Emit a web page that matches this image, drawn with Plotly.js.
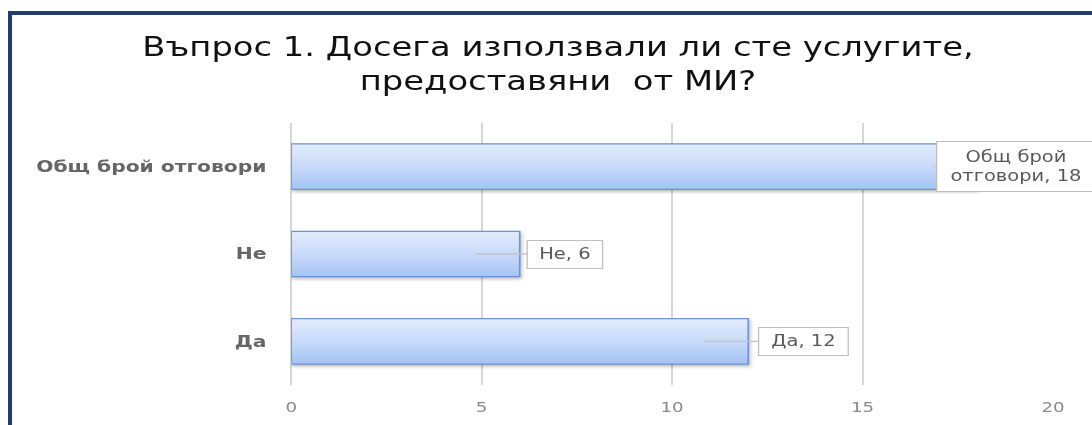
<!DOCTYPE html>
<html>
<head>
<meta charset="utf-8">
<script src="https://cdn.plot.ly/plotly-3.0.1.min.js"></script>
<style>
  html, body { margin: 0; padding: 0; overflow: hidden; background: #ffffff; }
  #stage { position: relative; width: 1092px; height: 425px; overflow: hidden; }
  #chart { position: absolute; left: 0; top: 0; width: 840px; height: 425px;
           transform: scaleX(1.3); transform-origin: 0 0; }
  #frame { position: absolute; left: 8px; top: 11px; width: 2000px; height: 2000px;
           border: 4px solid #223d6d; box-sizing: border-box; pointer-events: none; }
</style>
</head>
<body>
<div id="stage">
  <div id="chart"></div>
  <div id="frame"></div>
</div>
<script>
// Survey answers: "Have you used the services provided by the ministry?"
const categories = ['Да', 'Не', 'Общ брой отговори'];
const counts = [12, 6, 18];
const labelTexts = ['Да, 12', 'Не, 6', 'Общ брой<br>отговори, 18'];
const xTicks = [0, 5, 10, 15, 20];

const titleText = 'Въпрос 1. Досега използвали ли сте услугите,<br>предоставяни\u00a0 от МИ?';

// callout geometry per bar (px): tail offset from tip, box size
const calloutStyle = [
  { ax: 76, w: 60, h: 19 },
  { ax: 69, w: 49, h: 19 },
  { ax: 64, w: 113, h: 41 }
];

const trace = {
  type: 'bar',
  orientation: 'h',
  y: categories,
  x: counts,
  width: 0.52,
  marker: { color: '#c4d8f9', line: { color: '#6a95d4', width: 1.3 } },
  hoverinfo: 'skip'
};

const annotations = categories.map((c, i) => ({
  x: counts[i], y: c, xref: 'x', yref: 'y',
  xshift: -34,
  text: labelTexts[i],
  showarrow: true, arrowhead: 0, arrowwidth: 1.4, arrowcolor: '#c4c4c4',
  ax: calloutStyle[i].ax, ay: 0,
  width: calloutStyle[i].w, height: calloutStyle[i].h,
  align: 'center', valign: 'middle',
  bgcolor: '#ffffff', bordercolor: '#bfbfbf', borderwidth: 1, borderpad: 4,
  font: { family: 'DejaVu Sans', size: 15, color: '#595959' }
}));

const layout = {
  width: 840, height: 425,
  margin: { l: 224, r: 30, t: 123, b: 40 },
  paper_bgcolor: '#ffffff', plot_bgcolor: '#ffffff',
  showlegend: false,
  title: {
    text: titleText,
    x: 0.511, xref: 'container', xanchor: 'center',
    y: 0.868, yref: 'container', yanchor: 'middle',
    font: { family: 'DejaVu Sans', size: 26, color: '#111111' }
  },
  xaxis: {
    range: [0, 20], tickvals: xTicks, ticktext: xTicks.map(String),
    showgrid: true, gridcolor: '#d6d6d6', gridwidth: 1.5,
    zeroline: true, zerolinecolor: '#d6d6d6', zerolinewidth: 1.5,
    showline: false, ticks: '', ticklabelstandoff: 12,
    tickfont: { family: 'DejaVu Sans', size: 14, color: '#8a8a8a' },
    fixedrange: true
  },
  yaxis: {
    type: 'category', categoryorder: 'array', categoryarray: categories,
    range: [-0.5, 2.5],
    showgrid: false, zeroline: false, showline: false, ticks: '',
    ticklabelstandoff: 18,
    tickfont: { family: 'DejaVu Sans', size: 15.6, color: '#666666', weight: 'bold' },
    fixedrange: true
  },
  annotations: annotations
};

Plotly.newPlot('chart', [trace], layout, { staticPlot: true, displayModeBar: false }).then(gd => {
  // vertical gradient fill for the bars
  const svg = gd.querySelector('svg.main-svg');
  const ns = 'http://www.w3.org/2000/svg';
  let defs = svg.querySelector('defs');
  if (!defs) { defs = document.createElementNS(ns, 'defs'); svg.insertBefore(defs, svg.firstChild); }
  const grad = document.createElementNS(ns, 'linearGradient');
  grad.setAttribute('id', 'barGrad');
  grad.setAttribute('x1', '0'); grad.setAttribute('y1', '0');
  grad.setAttribute('x2', '0'); grad.setAttribute('y2', '1');
  [['0', '#e2ecfd'], ['0.5', '#c8dafa'], ['1', '#a5c3f4']].forEach(([o, col]) => {
    const s = document.createElementNS(ns, 'stop');
    s.setAttribute('offset', o); s.setAttribute('stop-color', col);
    grad.appendChild(s);
  });
  defs.appendChild(grad);
  gd.querySelectorAll('.bars path').forEach(p => {
    p.style.fill = 'url(#barGrad)';
    p.style.filter = 'drop-shadow(1px 2px 1.5px rgba(0,0,0,0.25))';
  });
});
</script>
</body>
</html>
